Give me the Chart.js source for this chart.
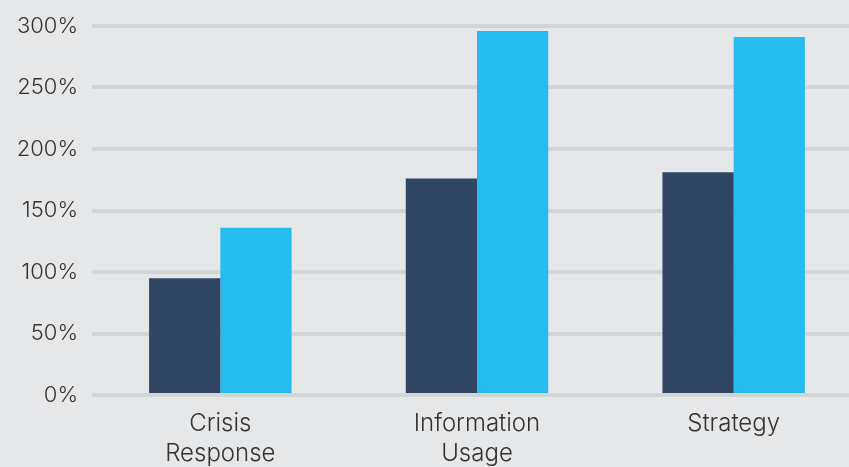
<!DOCTYPE html>
<html>
<head>
<meta charset="utf-8">
<script src="https://cdn.jsdelivr.net/npm/chart.js@4"></script>
<style>
  html, body { margin: 0; padding: 0; background: #e6e7e9; overflow: hidden; }
  #wrap { position: relative; width: 862px; height: 467px; }
</style>
</head>
<body>
<div id="wrap"><canvas id="c"></canvas></div>
<script>
const categories = [["Crisis", "Response"], ["Information", "Usage"], ["Strategy"]];
const seriesA = [95, 176, 181];
const seriesB = [136, 296, 291];
const yTicks = [0, 50, 100, 150, 200, 250, 300];

const yFont = { family: "Inter, 'Open Sans', sans-serif", size: 22, weight: 300, lineHeight: 1.36 };
const xFont = { family: "Inter, 'Open Sans', sans-serif", size: 24, weight: 300, lineHeight: '30px' };

new Chart(document.getElementById('c'), {
  type: 'bar',
  data: {
    labels: categories,
    datasets: [
      { data: seriesA, backgroundColor: '#314564', borderWidth: 0 },
      { data: seriesB, backgroundColor: '#26bcef', borderWidth: 0 }
    ]
  },
  options: {
    responsive: true,
    maintainAspectRatio: false,
    animation: false,
    layout: { padding: { top: 26, right: 0, left: 0, bottom: 0 } },
    plugins: { legend: { display: false }, tooltip: { enabled: false } },
    datasets: { bar: { categoryPercentage: 0.555, barPercentage: 1.0 } },
    scales: {
      x: {
        grid: { display: false, drawTicks: false },
        border: { display: false },
        ticks: { color: '#333333', font: xFont, padding: 14, maxRotation: 0 },
        afterFit: (s) => { s.height = 72; s.paddingLeft = 0; s.paddingRight = 0; }
      },
      y: {
        min: 0, max: 300,
        afterBuildTicks: (s) => { s.ticks = yTicks.map(v => ({ value: v })); },
        grid: { color: '#d3d4d6', lineWidth: 4, drawTicks: false },
        border: { display: false },
        ticks: { color: '#333333', font: yFont, padding: 14, callback: (v) => v + '%' },
        afterFit: (s) => { s.width = 92; s.paddingTop = 0; s.paddingBottom = 0; }
      }
    }
  }
});
</script>
</body>
</html>
